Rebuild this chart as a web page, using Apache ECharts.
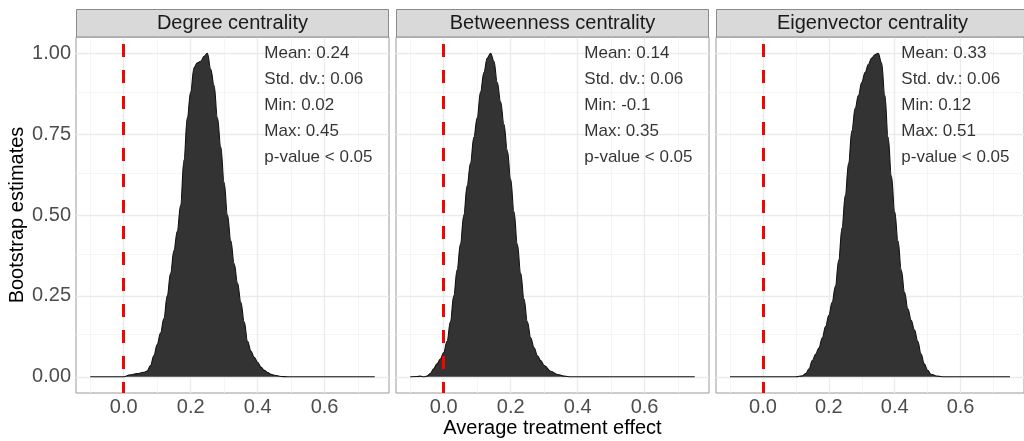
<!DOCTYPE html>
<html>
<head>
<meta charset="utf-8">
<script src="https://cdn.jsdelivr.net/npm/echarts@6/dist/echarts.min.js"></script>
<style>
  html, body { margin: 0; padding: 0; background: #fff; }
  #chart { width: 1024px; height: 441px; }
</style>
</head>
<body>
<div id="chart"></div>
<script>
// facet titles and the stats printed in each panel
const panelTitles = ['Degree centrality', 'Betweenness centrality', 'Eigenvector centrality'];
const meanVals = ['0.24', '0.14', '0.33'];
const sdVals = ['0.06', '0.06', '0.06'];
const minVals = ['0.02', '-0.1', '0.12'];
const maxVals = ['0.45', '0.35', '0.51'];
const pVals = ['< 0.05', '< 0.05', '< 0.05'];

// axis breaks
const xTicks = [0, 0.2, 0.4, 0.6];
const xMinor = [-0.1, 0.1, 0.3, 0.5, 0.7];
const yTicks = [0, 0.25, 0.5, 0.75, 1];
const yMinor = [0.125, 0.375, 0.625, 0.875];

// scaled density of bootstrap estimates, [effect, density]
const degreeDensity = [
  [-0.1, 0], [0, 0], [0.02, 0.006], [0.04, 0.01], [0.06, 0.014], [0.07, 0.018],
  [0.08, 0.035], [0.09, 0.065], [0.1, 0.1], [0.11, 0.135], [0.12, 0.18], [0.13, 0.25],
  [0.14, 0.32], [0.15, 0.39], [0.16, 0.45], [0.17, 0.53], [0.18, 0.67], [0.19, 0.8],
  [0.2, 0.88], [0.21, 0.955], [0.22, 0.97], [0.23, 0.975], [0.24, 0.99], [0.25, 1.0],
  [0.26, 0.95], [0.27, 0.9], [0.28, 0.8], [0.29, 0.71], [0.3, 0.6], [0.31, 0.5],
  [0.32, 0.42], [0.33, 0.35], [0.34, 0.29], [0.35, 0.23], [0.36, 0.17], [0.37, 0.11],
  [0.38, 0.08], [0.39, 0.06], [0.4, 0.045], [0.41, 0.03], [0.42, 0.02], [0.43, 0.013],
  [0.44, 0.008], [0.45, 0.005], [0.47, 0.001], [0.49, 0], [0.75, 0]
];
const betweenDensity = [
  [-0.1, 0], [-0.08, 0.001], [-0.07, 0.002], [-0.06, 0], [-0.05, 0.002], [-0.04, 0.01],
  [-0.03, 0.025], [-0.02, 0.04], [-0.01, 0.055], [0, 0.075], [0.01, 0.11], [0.02, 0.17],
  [0.03, 0.25], [0.04, 0.33], [0.05, 0.41], [0.06, 0.5], [0.07, 0.59], [0.08, 0.66],
  [0.09, 0.74], [0.1, 0.8], [0.11, 0.88], [0.12, 0.94], [0.13, 0.985], [0.14, 1.0],
  [0.15, 0.975], [0.16, 0.91], [0.17, 0.85], [0.18, 0.78], [0.19, 0.7], [0.2, 0.61],
  [0.21, 0.51], [0.22, 0.41], [0.23, 0.32], [0.24, 0.24], [0.25, 0.17], [0.26, 0.12],
  [0.27, 0.09], [0.28, 0.065], [0.29, 0.05], [0.3, 0.035], [0.32, 0.017], [0.34, 0.007],
  [0.36, 0.002], [0.38, 0], [0.75, 0]
];
const eigenDensity = [
  [-0.1, 0], [0.1, 0], [0.12, 0.003], [0.13, 0.01], [0.14, 0.025], [0.15, 0.05],
  [0.16, 0.07], [0.17, 0.09], [0.18, 0.12], [0.19, 0.155], [0.2, 0.19], [0.21, 0.23],
  [0.22, 0.28], [0.23, 0.36], [0.24, 0.46], [0.25, 0.56], [0.26, 0.66], [0.27, 0.76],
  [0.28, 0.83], [0.29, 0.87], [0.3, 0.91], [0.31, 0.94], [0.32, 0.965], [0.33, 0.985],
  [0.34, 0.995], [0.35, 1.0], [0.36, 0.97], [0.37, 0.87], [0.38, 0.74], [0.39, 0.62],
  [0.4, 0.51], [0.41, 0.42], [0.42, 0.33], [0.43, 0.26], [0.44, 0.21], [0.45, 0.175],
  [0.46, 0.145], [0.47, 0.11], [0.48, 0.07], [0.49, 0.04], [0.5, 0.02], [0.51, 0.008],
  [0.53, 0.002], [0.55, 0], [0.75, 0]
];
const densities = [degreeDensity, betweenDensity, eigenDensity];

const FONT = '"Liberation Sans", Arial, sans-serif';
const panelLeft = [76, 396, 716];
const panelW = 313, panelTop = 37, panelH = 356;

const chart = echarts.init(document.getElementById('chart'));

const grids = [], xAxes = [], yAxes = [], series = [], graphics = [];

densities.forEach((dens, i) => {
  // last facet is cut off by the right edge of the picture
  grids.push({
    left: panelLeft[i], top: panelTop, height: panelH,
    right: 1024 - panelLeft[i] - panelW,
    show: true, borderColor: '#9a9a9a', borderWidth: 1, backgroundColor: '#fff'
  });
  xAxes.push({
    type: 'value', gridIndex: i, min: -0.1425, max: 0.7925,
    axisLine: { show: false },
    axisTick: { show: true, customValues: xTicks, length: 4, lineStyle: { color: '#555' } },
    axisLabel: {
      customValues: xTicks, margin: 4, fontSize: 20, color: '#4d4d4d', fontFamily: FONT,
      formatter: v => v.toFixed(1)
    },
    splitLine: { show: false }
  });
  yAxes.push({
    type: 'value', gridIndex: i, min: -0.05, max: 1.05,
    axisLine: { show: false },
    axisTick: { show: i === 0, customValues: yTicks, length: 4, lineStyle: { color: '#555' } },
    axisLabel: {
      show: i === 0, customValues: yTicks, margin: 5, fontSize: 20, color: '#4d4d4d', fontFamily: FONT,
      formatter: v => v.toFixed(2)
    },
    splitLine: { show: false }
  });

  const major = { color: '#ebebeb', width: 1.3, type: 'solid' };
  const minor = { color: '#f3f3f3', width: 0.8, type: 'solid' };
  series.push({
    type: 'line', xAxisIndex: i, yAxisIndex: i, data: [], z: 1, silent: true,
    markLine: {
      silent: true, symbol: ['none', 'none'], label: { show: false }, z: 1, animation: false,
      data: [
        ...xMinor.map(v => ({ xAxis: v, lineStyle: minor })),
        ...yMinor.map(v => ({ yAxis: v, lineStyle: minor })),
        ...xTicks.map(v => ({ xAxis: v, lineStyle: major })),
        ...yTicks.map(v => ({ yAxis: v, lineStyle: major }))
      ]
    }
  });

  series.push({
    type: 'line', xAxisIndex: i, yAxisIndex: i, data: dens, z: 3,
    showSymbol: false, smooth: 0.4, smoothMonotone: 'x',
    lineStyle: { color: '#111', width: 1.1 },
    areaStyle: { color: '#333333', opacity: 1 },
    markLine: {
      silent: true, symbol: ['none', 'none'], label: { show: false }, z: 10, animation: false,
      data: [{ xAxis: 0 }],
      lineStyle: { color: '#ff0000', width: 3, type: [13, 13], dashOffset: 2 }
    }
  });

  const statText = [
    'Mean: ' + meanVals[i],
    'Std. dv.: ' + sdVals[i],
    'Min: ' + minVals[i],
    'Max: ' + maxVals[i],
    'p-value ' + pVals[i]
  ].join('\n');
  series.push({
    type: 'scatter', xAxisIndex: i, yAxisIndex: i, z: 12, silent: true,
    symbolSize: 0, data: [[0.42, 1.0]],
    label: {
      show: true, position: [0, -13], align: 'left', verticalAlign: 'top',
      formatter: statText, fontSize: 17, lineHeight: 26, color: '#000', fontFamily: FONT
    }
  });

  // facet strip
  graphics.push({
    type: 'rect', z: 5,
    shape: { x: panelLeft[i] + 0.5, y: 9.5, width: panelW - 1, height: panelTop - 9.5 },
    style: { fill: '#d9d9d9', stroke: '#8a8a8a', lineWidth: 1 }
  });
  graphics.push({
    type: 'text', x: panelLeft[i] + panelW / 2, y: 23, z: 6,
    style: {
      text: panelTitles[i], font: '20px ' + FONT, fill: '#1a1a1a',
      align: 'center', verticalAlign: 'middle', textAlign: 'center', textVerticalAlign: 'middle'
    }
  });
});

graphics.push({
  type: 'text', x: 552.5, y: 428, z: 6,
  style: {
    text: 'Average treatment effect', font: '20px ' + FONT, fill: '#000',
    align: 'center', verticalAlign: 'middle', textAlign: 'center', textVerticalAlign: 'middle'
  }
});
graphics.push({
  type: 'text', x: 17.5, y: 215, rotation: Math.PI / 2, z: 6,
  style: {
    text: 'Bootstrap estimates', font: '20px ' + FONT, fill: '#000',
    align: 'center', verticalAlign: 'middle', textAlign: 'center', textVerticalAlign: 'middle'
  }
});

chart.setOption({
  animation: false,
  backgroundColor: '#fff',
  grid: grids,
  xAxis: xAxes,
  yAxis: yAxes,
  series: series,
  graphic: graphics
});
</script>
</body>
</html>
